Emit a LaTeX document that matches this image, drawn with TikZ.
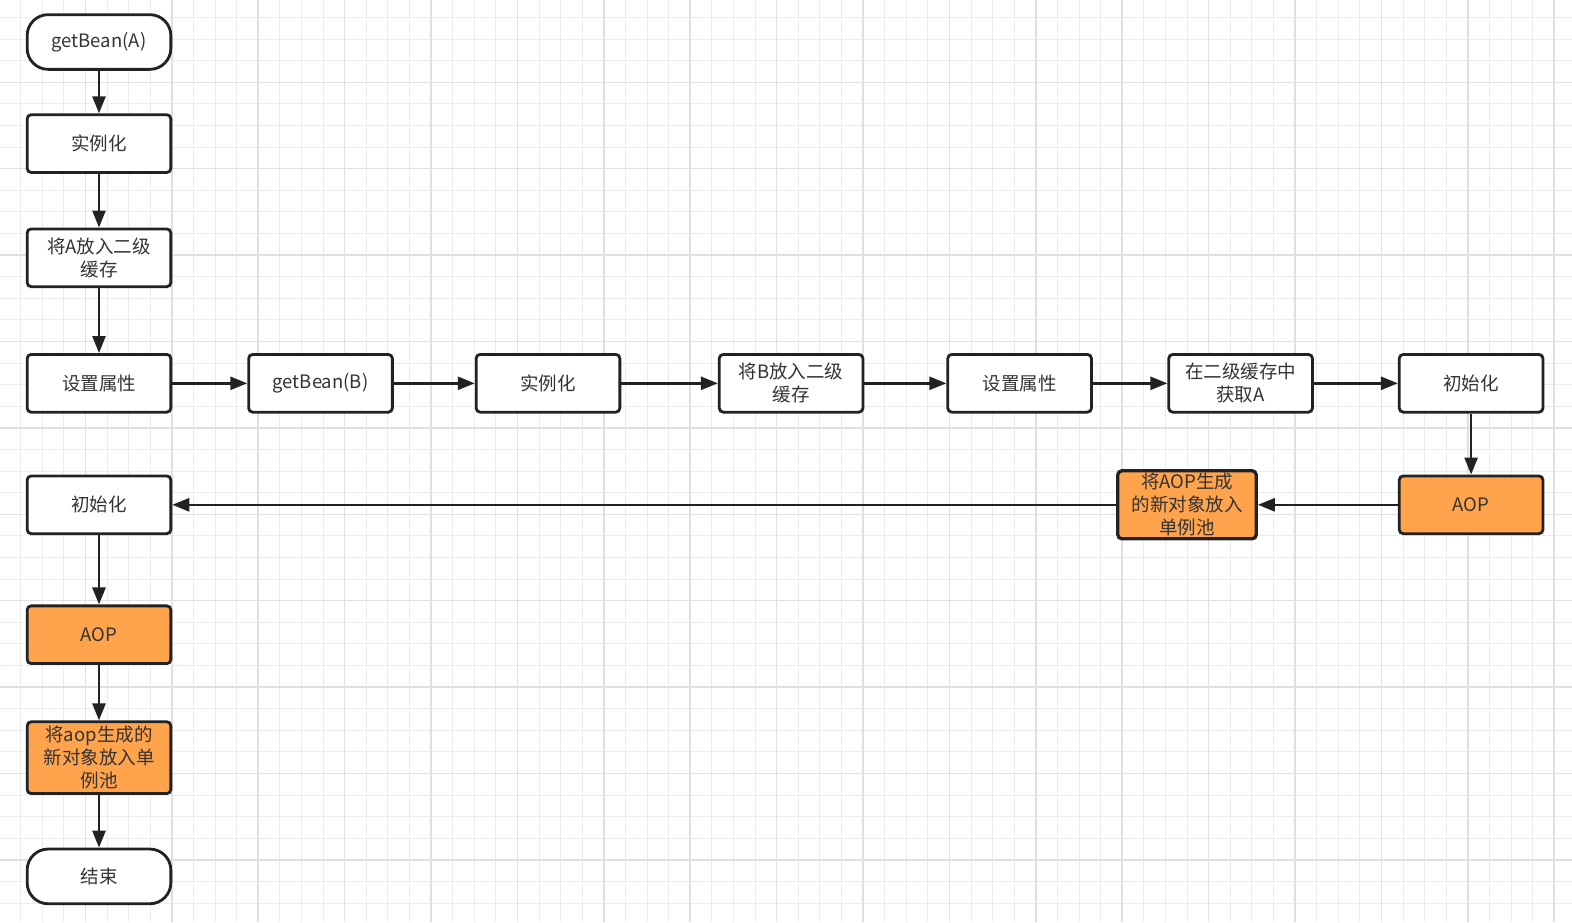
\documentclass[tikz,border=0pt]{standalone}
\usepackage{fontspec}
\newfontfamily\cjk{Noto Sans CJK SC}
\usetikzlibrary{arrows.meta, positioning}

\definecolor{aoporange}{RGB}{255,163,77}
\definecolor{inkgray}{RGB}{34,34,34}
\definecolor{textgray}{RGB}{51,51,51}
\definecolor{gridminor}{RGB}{236,236,236}
\definecolor{gridmajor}{RGB}{224,224,224}

\begin{document}
\begin{tikzpicture}[
x=1pt, y=-1pt,
node distance=60pt,
box/.style={rectangle, draw=inkgray, line width=2.8pt, rounded corners=4pt, fill=white, align=center, text=textgray, font=\cjk\fontsize{18.5}{23}\selectfont, minimum width=143.7pt, minimum height=57.7pt, inner sep=2pt},
term/.style={box, rounded corners=21pt, minimum height=54.7pt},
aop/.style={box, fill=aoporange},
arr/.style={-{Triangle[length=17pt, width=13pt]}, line width=2.6pt, draw=inkgray}
]
\useasboundingbox (0,0) rectangle (1572,922);
% grid paper
\fill[white] (0,0) rectangle (1572,922);
\foreach \i in {0,...,73} \draw[gridminor, line width=1pt] ({-1+21.6*\i},0) -- ({-1+21.6*\i},922);
\foreach \j in {0,...,43} \draw[gridminor, line width=1pt] (0,{-4.1+21.6*\j}) -- (1572,{-4.1+21.6*\j});
\foreach \i in {0,...,18} \draw[gridmajor, line width=1.5pt] ({-1+86.4*\i},0) -- ({-1+86.4*\i},922);
\foreach \j in {0,...,10} \draw[gridmajor, line width=1.5pt] (0,{-4.1+86.4*\j}) -- (1572,{-4.1+86.4*\j});

% bean A
\node[term] (getA) at (99,42) {getBean(A)};
\node[box, below=42.6pt of getA] (instA) {实例化};
\node[box, below=53.7pt of instA] (cacheA) {将A放入二级\\缓存};
\node[box, below=65pt of cacheA] (setA) {设置属性};

% bean B
\node[box, right=75pt of setA] (getB) {getBean(B)};
\node[box, right=81pt of getB] (instB) {实例化};
\node[box, right=96.6pt of instB] (cacheB) {将B放入二级\\缓存};
\node[box, right=82pt of cacheB] (setB) {设置属性};
\node[box, right=74.5pt of setB] (fetchA) {在二级缓存中\\获取A};
\node[box, right=84pt of fetchA] (initB) {初始化};
\node[aop, below=61pt of initB] (aopB) {AOP};
\node[aop, left=140pt of aopB, minimum width=138.4pt, minimum height=68pt, line width=3.3pt] (poolB) {将AOP生成\\的新对象放入\\单例池};

% back to A
\node[box, below=61pt of setA] (initA) {初始化};
\node[aop, below=69.4pt of initA] (aopA) {AOP};
\node[aop, below=55.4pt of aopA, minimum height=71.8pt] (poolA) {将aop生成的\\新对象放入单\\例池};
\node[term, below=52.7pt of poolA] (endA) {结束};

\draw[arr] (getA) -- (instA);
\draw[arr] (instA) -- (cacheA);
\draw[arr] (cacheA) -- (setA);
\draw[arr] (setA) -- (getB);
\draw[arr] (getB) -- (instB);
\draw[arr] (instB) -- (cacheB);
\draw[arr] (cacheB) -- (setB);
\draw[arr] (setB) -- (fetchA);
\draw[arr] (fetchA) -- (initB);
\draw[arr] (initB) -- (aopB);
\draw[arr] (aopB) -- (poolB);
\draw[arr] (poolB) -- (initA);
\draw[arr] (initA) -- (aopA);
\draw[arr] (aopA) -- (poolA);
\draw[arr] (poolA) -- (endA);
\end{tikzpicture}
\end{document}
